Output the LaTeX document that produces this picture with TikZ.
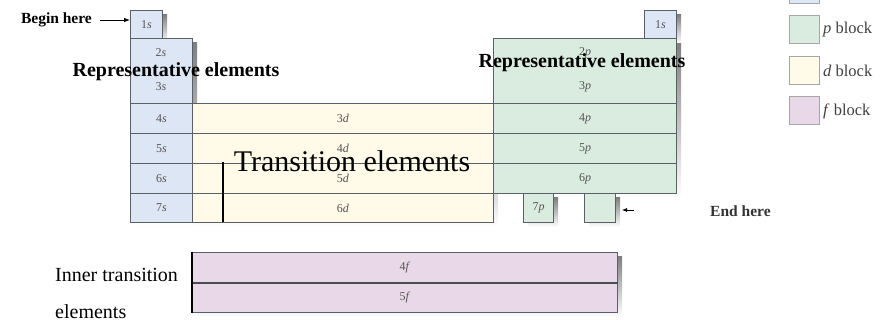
\documentclass[tikz,border=0pt]{standalone}
\usepackage{fontspec}
\setmainfont{Liberation Serif}
\usetikzlibrary{arrows.meta}
\definecolor{sblue}{HTML}{DCE6F4}
\definecolor{pgreen}{HTML}{DAEBE0}
\definecolor{dyellow}{HTML}{FFFBE8}
\definecolor{fpink}{HTML}{E8D8E8}
\definecolor{cellline}{HTML}{5A6068}
\definecolor{celltext}{HTML}{555555}
\definecolor{shade}{HTML}{B8B8B8}
\begin{document}
\begin{tikzpicture}[x=1pt,y=-1pt,
  cell/.style={draw=cellline, line width=1pt, inner sep=0pt, anchor=north west,
    font=\fontsize{12}{13}\selectfont, text=celltext},
  sc/.style={cell, fill=sblue},
  pc/.style={cell, fill=pgreen},
  dc/.style={cell, fill=dyellow},
  fc/.style={cell, fill=fpink},
  lab/.style={font=\fontsize{12}{13}\selectfont, text=celltext, inner sep=0pt},
  legbox/.style={draw=black!35, line width=1pt, minimum width=30pt, minimum height=28pt, inner sep=0pt},
  legtext/.style={font=\fontsize{16.5}{18}\selectfont, text=black!75, anchor=west, inner sep=0pt},
  bigbold/.style={font=\bfseries\fontsize{20}{22}\selectfont, inner sep=0pt},
  thick line/.style={line width=2pt, black}
]
\useasboundingbox (0,0) rectangle (883,320);
% shadows
\begin{scope}[shift={(5,5)}]
\fill[shade] (130,10) rectangle (162,38);
\fill[shade] (130,38) rectangle (192,222);
\fill[shade] (192,103) rectangle (493,222);
\fill[shade] (493,38) rectangle (676,193);
\fill[shade] (644,10) rectangle (676,38);
\fill[shade] (523,193) rectangle (553,222);
\fill[shade] (584,193) rectangle (615,222);
\fill[shade] (192,252) rectangle (617,312);
\end{scope}
% s block
\node[sc, minimum width=32pt, minimum height=28pt] (s1) at (130,10) {1\textit{s}};
\node[sc, minimum width=62pt, minimum height=65pt] (s23) at (130,38) {};
\node[lab] (l2s) at (161,53) {2\textit{s}};
\node[lab] (l3s) at (161,87) {3\textit{s}};
\node[sc, minimum width=62pt, minimum height=30pt] (s4) at (130,103) {4\textit{s}};
\node[sc, minimum width=62pt, minimum height=30pt] (s5) at (130,133) {5\textit{s}};
\node[sc, minimum width=62pt, minimum height=30pt] (s6) at (130,163) {6\textit{s}};
\node[sc, minimum width=62pt, minimum height=29pt] (s7) at (130,193) {7\textit{s}};
% d block
\node[dc, minimum width=301pt, minimum height=30pt] (d3) at (192,103) {3\textit{d}};
\node[dc, minimum width=301pt, minimum height=30pt] (d4) at (192,133) {4\textit{d}};
\node[dc, minimum width=301pt, minimum height=30pt] (d5) at (192,163) {5\textit{d}};
\node[dc, minimum width=301pt, minimum height=29pt] (d6) at (192,193) {6\textit{d}};
% p block
\node[sc, minimum width=32pt, minimum height=28pt] (p1) at (644,10) {1\textit{s}};
\node[pc, minimum width=183pt, minimum height=65pt] (p23) at (493,38) {};
\node[lab] (l2p) at (585,53) {2\textit{p}};
\node[lab] (l3p) at (585,87) {3\textit{p}};
\node[pc, minimum width=183pt, minimum height=30pt] (p4) at (493,103) {4\textit{p}};
\node[pc, minimum width=183pt, minimum height=30pt] (p5) at (493,133) {5\textit{p}};
\node[pc, minimum width=183pt, minimum height=30pt] (p6) at (493,163) {6\textit{p}};
\node[pc, minimum width=30pt, minimum height=29pt] (p7) at (523,193) {7\textit{p}};
\node[pc, minimum width=31pt, minimum height=29pt] (px) at (584,193) {};
% f block
\node[fc, minimum width=425pt, minimum height=30pt] (f4) at (192,252) {4\textit{f}};
\node[fc, minimum width=425pt, minimum height=30pt] (f5) at (192,282) {5\textit{f}};
\draw[line width=2pt, cellline!80!black] (f4.south west) -- (f4.south east);
\draw[thick line] (f4.north west) -- (f5.south west);
% transition divider
\coordinate (tv1) at (223,162);
\coordinate (tv2) at (223,222);
\draw[thick line] (tv1) -- (tv2);
% texts
\node[font=\bfseries\fontsize{15.5}{17}\selectfont, anchor=east, inner sep=0pt] (begin) at (92,20) {Begin here};
\coordinate (ba) at (100,20);
\draw[-{Latex[length=6pt,width=4.5pt]}, line width=0.8pt] (ba) -- (ba -| s1.west);
\node[bigbold] (rep1) at (176,72) {Representative elements};
\node[bigbold] (rep2) at (582,63) {Representative elements};
\node[font=\fontsize{30}{34}\selectfont, anchor=base, inner sep=0pt] (trans) at (352,172) {Transition elements};
\node[font=\fontsize{20}{22}\selectfont, anchor=base west, inner sep=0pt] (inner1) at (55,282) {Inner transition};
\node[font=\fontsize{20}{22}\selectfont, anchor=base west, inner sep=0pt] (inner2) at (55,318) {elements};
\node[font=\bfseries\fontsize{15.5}{17}\selectfont, anchor=west, inner sep=0pt, text=black!80] (endh) at (710,211) {End here};
\coordinate (ea) at (634,210);
\draw[-{Latex[length=5pt,width=4pt]}, line width=0.7pt] (ea) -- ++(-12,0) coordinate (eb);
% legend
\node[legbox, fill=sblue] (ls) at (804,-10) {};
\node[legbox, fill=pgreen] (lp) at (804,30) {};
\node[legtext] (tp) at (823,30) {\textit{p} block};
\node[legbox, fill=dyellow] (ld) at (804,71) {};
\node[legtext] (td) at (823,71) {\textit{d} block};
\node[legbox, fill=fpink] (lf) at (804,111) {};
\node[legtext] (tf) at (823,111) {\textit{f} block};
\end{tikzpicture}
\end{document}
